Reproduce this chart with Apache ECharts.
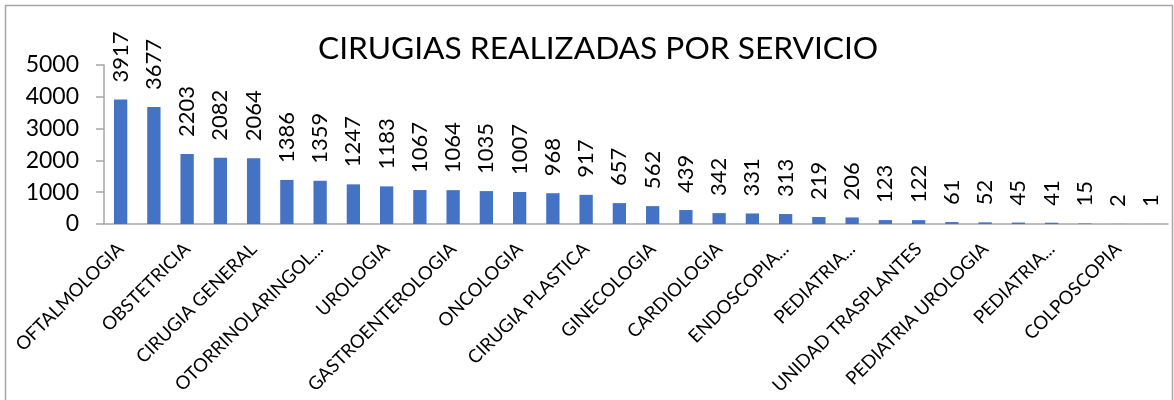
<!DOCTYPE html>
<html>
<head>
<meta charset="utf-8">
<script src="https://cdn.jsdelivr.net/npm/echarts@6/dist/echarts.min.js"></script>
<style>
    html, body { margin: 0; padding: 0; background: #fff; }
    #chart { width: 1174px; height: 400px; }
</style>
</head>
<body>
<div id="chart"></div>
<script>
    // servicios (solo se ven los pares en el eje, igual que en el original)
    var servicios = [
        'OFTALMOLOGIA', '', 'OBSTETRICIA', '', 'CIRUGIA GENERAL', '',
        'OTORRINOLARINGOL...', '', 'UROLOGIA', '', 'GASTROENTEROLOGIA', '',
        'ONCOLOGIA', '', 'CIRUGIA PLASTICA', '', 'GINECOLOGIA', '',
        'CARDIOLOGIA', '', 'ENDOSCOPIA...', '', 'PEDIATRIA...', '',
        'UNIDAD TRASPLANTES', '', 'PEDIATRIA UROLOGIA', '', 'PEDIATRIA...', '',
        'COLPOSCOPIA', ''
    ];
    var cirugias = [
        3917, 3677, 2203, 2082, 2064, 1386, 1359, 1247, 1183, 1067, 1064,
        1035, 1007, 968, 917, 657, 562, 439, 342, 331, 313, 219, 206, 123,
        122, 61, 52, 45, 41, 15, 2, 1
    ];
    var yTicks = [0, 1000, 2000, 3000, 4000, 5000];

    var font = 'Lato, "Liberation Sans", sans-serif';
    var chart = echarts.init(document.getElementById('chart'));
    var option = {
        animation: false,
        title: {
            text: 'CIRUGIAS REALIZADAS POR SERVICIO',
            left: 313,
            top: 28,
            textStyle: { fontFamily: font, fontSize: 31.7, fontWeight: 'normal', color: '#000' }
        },
        graphic: [{
            type: 'rect',
            shape: { x: 5.5, y: 5.5, width: 1167, height: 420 },
            style: { fill: null, stroke: '#a6a6a6', lineWidth: 1.5 },
            silent: true
        }],
        grid: { left: 104, right: 6, top: 65, bottom: 176 },
        xAxis: {
            type: 'category',
            data: servicios,
            axisLine: { lineStyle: { color: '#a6a6a6', width: 1.5 } },
            axisTick: { show: false },
            axisLabel: {
                interval: 1,
                rotate: 45,
                margin: 22,
                fontFamily: font,
                fontSize: 18.5,
                color: '#000'
            }
        },
        yAxis: {
            type: 'value',
            min: yTicks[0],
            max: yTicks[yTicks.length - 1],
            interval: 1000,
            splitLine: { show: false },
            axisLine: { show: true, lineStyle: { color: '#a6a6a6', width: 1.5 } },
            axisTick: { show: true, length: 8, lineStyle: { color: '#a6a6a6', width: 1.5 } },
            axisLabel: {
                formatter: function (v) { return String(v); },
                fontFamily: font, fontSize: 23, color: '#000', margin: 25
            }
        },
        series: [{
            type: 'bar',
            data: cirugias,
            barWidth: '40%',
            itemStyle: { color: '#4472c4' },
            label: {
                show: true,
                position: 'top',
                rotate: 90,
                align: 'left',
                verticalAlign: 'middle',
                distance: 17,
                fontFamily: font,
                fontSize: 22,
                color: '#000'
            }
        }]
    };
    chart.setOption(option);
    window.addEventListener('resize', chart.resize);
</script>
</body>
</html>
